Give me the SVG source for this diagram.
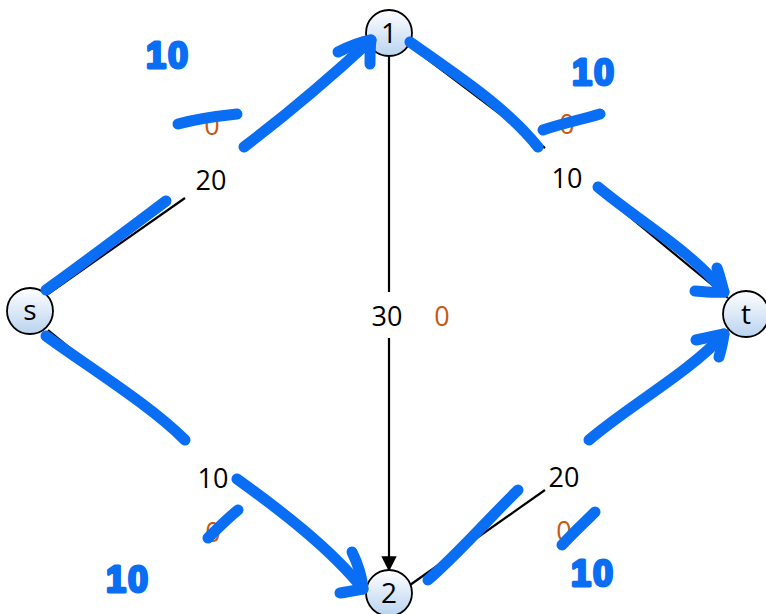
<svg xmlns="http://www.w3.org/2000/svg" width="766" height="614" viewBox="0 0 766 614">
<defs>
<linearGradient id="nodeFill" x1="0" y1="0" x2="0" y2="1">
<stop offset="0" stop-color="#ffffff"/>
<stop offset="1" stop-color="#b9d3ef"/>
</linearGradient>
<marker id="arr" viewBox="0 0 10 10" refX="9" refY="5" markerWidth="7" markerHeight="7" orient="auto" markerUnits="strokeWidth">
<path d="M0,0 L10,5 L0,10 z" fill="#000"/>
</marker>
<style>
.node circle{fill:url(#nodeFill);stroke:#000;stroke-width:1.8}
.node text{font-family:"Open Sans","Liberation Sans",sans-serif;font-size:28px;fill:#000;text-anchor:middle}
.edge{stroke:#000;stroke-width:2.2;fill:none}
.cap{font-family:"Open Sans","Liberation Sans",sans-serif;font-size:27px;fill:#000;text-anchor:middle}
.flow{font-family:"Open Sans","Liberation Sans",sans-serif;font-size:27px;fill:#c55a11;text-anchor:middle}
.ink{stroke:#0a6ef4;stroke-width:11;stroke-linecap:round;stroke-linejoin:round;fill:none}
.hand{font-family:"Liberation Sans",sans-serif;font-weight:bold;font-size:36px;letter-spacing:2px;fill:#0a6ef4;stroke:#0a6ef4;stroke-width:3;stroke-linejoin:round;text-anchor:middle}
</style>
</defs>
<rect width="766" height="614" fill="#fff"/>
<g id="connectors">
<path class="edge" d="M48,294 L185,198"/>
<path class="edge" d="M242,150 L370,45"/>
<path class="edge" d="M410,46 L545,148"/>
<path class="edge" d="M597,190 L728,298"/>
<path class="edge" d="M48,330 L185,442"/>
<path class="edge" d="M238,480 L366,586"/>
<path class="edge" d="M410,585 L545,490"/>
<path class="edge" d="M590,440 L728,330"/>
<path class="edge" d="M389,56 L389,292"/>
<path class="edge" marker-end="url(#arr)" d="M389,338 L389,570"/>
</g>
<g id="labels">
<text class="cap" x="211" y="190">20</text>
<text class="flow" x="212" y="135">0</text>
<text class="cap" x="567" y="188">10</text>
<text class="flow" x="567" y="134">0</text>
<text class="cap" x="213" y="488">10</text>
<text class="flow" x="213" y="542">0</text>
<text class="cap" x="564" y="487">20</text>
<text class="flow" x="564" y="541">0</text>
<text class="cap" x="387" y="326">30</text>
<text class="flow" x="442" y="326">0</text>
</g>
<g id="n1" class="node"><circle cx="389" cy="33" r="23"/><text x="389" y="43">1</text></g>
<g id="ns" class="node"><circle cx="30" cy="311" r="23"/><text x="30" y="320">s</text></g>
<g id="nt" class="node"><circle cx="746" cy="314" r="23"/><text x="746" y="324">t</text></g>
<g id="n2" class="node"><circle cx="389" cy="593" r="23"/><text x="389" y="603">2</text></g>
<g id="annotations">
<path class="ink" d="M46,290 C85,262 130,228 166,201"/>
<path class="ink" d="M244,147 C290,112 330,78 371,40"/>
<path class="ink" d="M338,52 C350,46 360,42 371,40 C370,48 370,56 370,64"/>
<path class="ink" d="M178,124 C200,118 218,116 237,114"/>
<path class="ink" d="M410,42 C455,74 505,106 538,147"/>
<path class="ink" d="M543,130 C560,124 580,120 600,114"/>
<path class="ink" d="M598,187 C640,222 690,250 724,292"/>
<path class="ink" d="M695,291 C705,292 715,293 724,292 C722,285 720,276 717,268"/>
<path class="ink" d="M46,336 C90,368 150,405 185,440"/>
<path class="ink" d="M237,479 C280,510 330,548 363,589"/>
<path class="ink" d="M340,593 C348,592 356,590 363,589 C362,577 358,564 352,552"/>
<path class="ink" d="M208,538 C218,528 228,518 238,510"/>
<path class="ink" d="M428,580 C462,550 492,515 518,490"/>
<path class="ink" d="M589,440 C630,405 690,372 724,334"/>
<path class="ink" d="M696,340 C705,338 715,336 724,334 C723,342 721,350 719,357"/>
<path class="ink" d="M562,545 C573,533 585,522 595,512"/>
<text class="hand" x="168" y="68">10</text>
<text class="hand" x="594" y="85">10</text>
<text class="hand" x="128" y="592">10</text>
<text class="hand" x="593" y="586">10</text>
</g>
</svg>
